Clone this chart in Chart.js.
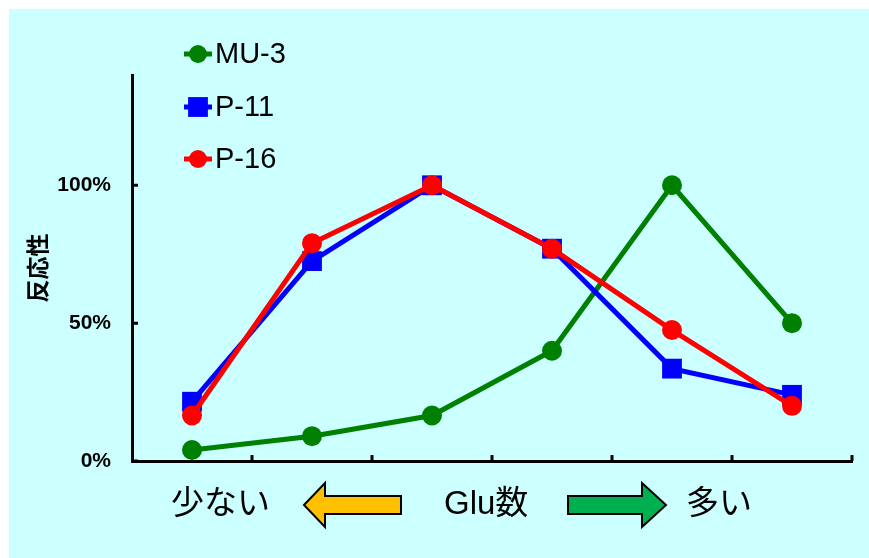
<!DOCTYPE html>
<html>
<head>
<meta charset="utf-8">
<script src="https://cdn.jsdelivr.net/npm/chart.js@4"></script>
<style>
  html, body { margin: 0; padding: 0; background: #fff; }
  #wrap { width: 869px; height: 558px; }
</style>
</head>
<body>
<div id="wrap"><canvas id="chart" width="869" height="558"></canvas></div>
<script>
// Glu count steps (few -> many), no labels printed on the axis
const categories = ['1', '2', '3', '4', '5', '6'];
const mu3 = [4, 9, 16.5, 40, 100, 50];
const p11 = [21.5, 72.5, 100, 77, 33.5, 24];
const p16 = [16.5, 79, 100, 77, 47.5, 20];
const yTicks = [0, 50, 100];
const seriesNames = ['MU-3', 'P-11', 'P-16'];

const latin = '"Liberation Sans", Arial, sans-serif';
const jp = '"Liberation Sans", "Noto Sans CJK JP", sans-serif';

function series(label, data, color, style, radius, order) {
    return {
        label: label,
        data: data,
        borderColor: color,
        backgroundColor: color,
        borderWidth: 5,
        pointStyle: style,
        pointRadius: radius,
        pointBorderWidth: 0,
        tension: 0,
        order: order
    };
}

// light cyan panel behind everything
const panel = {
    id: 'panel',
    beforeDraw(chart) {
        const ctx = chart.ctx;
        ctx.save();
        ctx.fillStyle = '#ffffff';
        ctx.fillRect(0, 0, chart.width, chart.height);
        ctx.fillStyle = '#ccffff';
        ctx.fillRect(9, 9, chart.width - 9, chart.height - 9);
        ctx.restore();
    }
};

// short tick marks pointing into the plot area
const innerTicks = {
    id: 'innerTicks',
    beforeDatasetsDraw(chart) {
        const ctx = chart.ctx;
        const xs = chart.scales.x, ys = chart.scales.y;
        const area = chart.chartArea;
        ctx.save();
        ctx.strokeStyle = '#000';
        ctx.lineWidth = 3;
        ctx.beginPath();
        for (let i = 1; i <= categories.length; i++) {
            const px = xs.getPixelForValue(i - 0.5);
            ctx.moveTo(px, area.bottom);
            ctx.lineTo(px, area.bottom - 6);
        }
        ys.ticks.forEach(t => {
            const py = ys.getPixelForValue(t.value);
            ctx.moveTo(area.left, py);
            ctx.lineTo(area.left + 6, py);
        });
        ctx.stroke();
        ctx.restore();
    }
};

// legend with line + marker samples, top left inside the panel
const lineLegend = {
    id: 'lineLegend',
    afterDraw(chart) {
        const ctx = chart.ctx;
        const rows = [54, 107, 159];
        ctx.save();
        chart.data.datasets.forEach((ds, i) => {
            const y = rows[i];
            ctx.strokeStyle = ds.borderColor;
            ctx.lineWidth = 5;
            ctx.beginPath();
            ctx.moveTo(184, y);
            ctx.lineTo(212, y);
            ctx.stroke();
            ctx.fillStyle = ds.backgroundColor;
            Chart.helpers.drawPoint(ctx, {
                pointStyle: ds.pointStyle,
                radius: ds.pointStyle === 'rect' ? 14 : 9,
                rotation: 0,
                borderWidth: 0
            }, 198, y);
            ctx.fillStyle = '#000';
            ctx.font = '29px ' + latin;
            ctx.textBaseline = 'middle';
            ctx.textAlign = 'left';
            ctx.fillText(ds.label, 215, y + 1);
        });
        ctx.restore();
    }
};

function arrow(ctx, tipX, baseX, endX, cy, fill) {
    // tipX: arrow point, baseX: where the head meets the shaft, endX: tail end
    ctx.beginPath();
    ctx.moveTo(tipX, cy);
    ctx.lineTo(baseX, cy - 22);
    ctx.lineTo(baseX, cy - 9);
    ctx.lineTo(endX, cy - 9);
    ctx.lineTo(endX, cy + 9);
    ctx.lineTo(baseX, cy + 9);
    ctx.lineTo(baseX, cy + 22);
    ctx.closePath();
    ctx.fillStyle = fill;
    ctx.fill();
    ctx.strokeStyle = '#000';
    ctx.lineWidth = 2;
    ctx.stroke();
}

// caption under the x axis: 少ない <- Glu数 -> 多い
const caption = {
    id: 'caption',
    afterDraw(chart) {
        const ctx = chart.ctx;
        const cy = 505;
        ctx.save();
        ctx.fillStyle = '#000';
        ctx.font = '33px ' + jp;
        ctx.textBaseline = 'middle';
        ctx.textAlign = 'left';
        ctx.fillText('少ない', 171, cy);
        ctx.fillText('Glu数', 444, cy);
        ctx.fillText('多い', 686, cy);
        arrow(ctx, 304, 325, 401, cy, '#ffc000');
        arrow(ctx, 666, 642, 568, cy, '#00b050');
        ctx.restore();
    }
};

new Chart(document.getElementById('chart'), {
    type: 'line',
    data: {
        labels: categories,
        datasets: [
            series(seriesNames[0], mu3, '#008000', 'circle', 10, 3),
            series(seriesNames[1], p11, '#0000ff', 'rect', 14, 2),
            series(seriesNames[2], p16, '#ff0000', 'circle', 10, 1)
        ]
    },
    options: {
        responsive: false,
        animation: false,
        layout: { padding: { left: 9, top: 75, right: 17, bottom: 97 } },
        plugins: {
            legend: { display: false },
            tooltip: { enabled: false }
        },
        elements: { line: { clip: false } },
        scales: {
            x: {
                offset: true,
                grid: { display: false, drawTicks: false },
                border: { display: true, color: '#000', width: 3 },
                ticks: { display: false },
                afterFit(scale) { scale.height = 0; }
            },
            y: {
                min: 0,
                max: 140,
                grid: { display: false, drawTicks: false },
                border: { display: true, color: '#000', width: 3 },
                afterBuildTicks(scale) {
                    scale.ticks = yTicks.map(v => ({ value: v }));
                },
                ticks: {
                    padding: 21,
                    color: '#000',
                    font: { family: latin, size: 21, weight: 'bold' },
                    callback: v => v + '%'
                },
                title: {
                    display: true,
                    text: '反応性',
                    color: '#000',
                    padding: { top: 14, bottom: 0 },
                    font: { family: '"Noto Sans CJK JP", sans-serif', size: 23, weight: 'bold' }
                },
                afterFit(scale) { scale.width = 123; }
            }
        }
    },
    plugins: [panel, innerTicks, lineLegend, caption]
});
</script>
</body>
</html>
